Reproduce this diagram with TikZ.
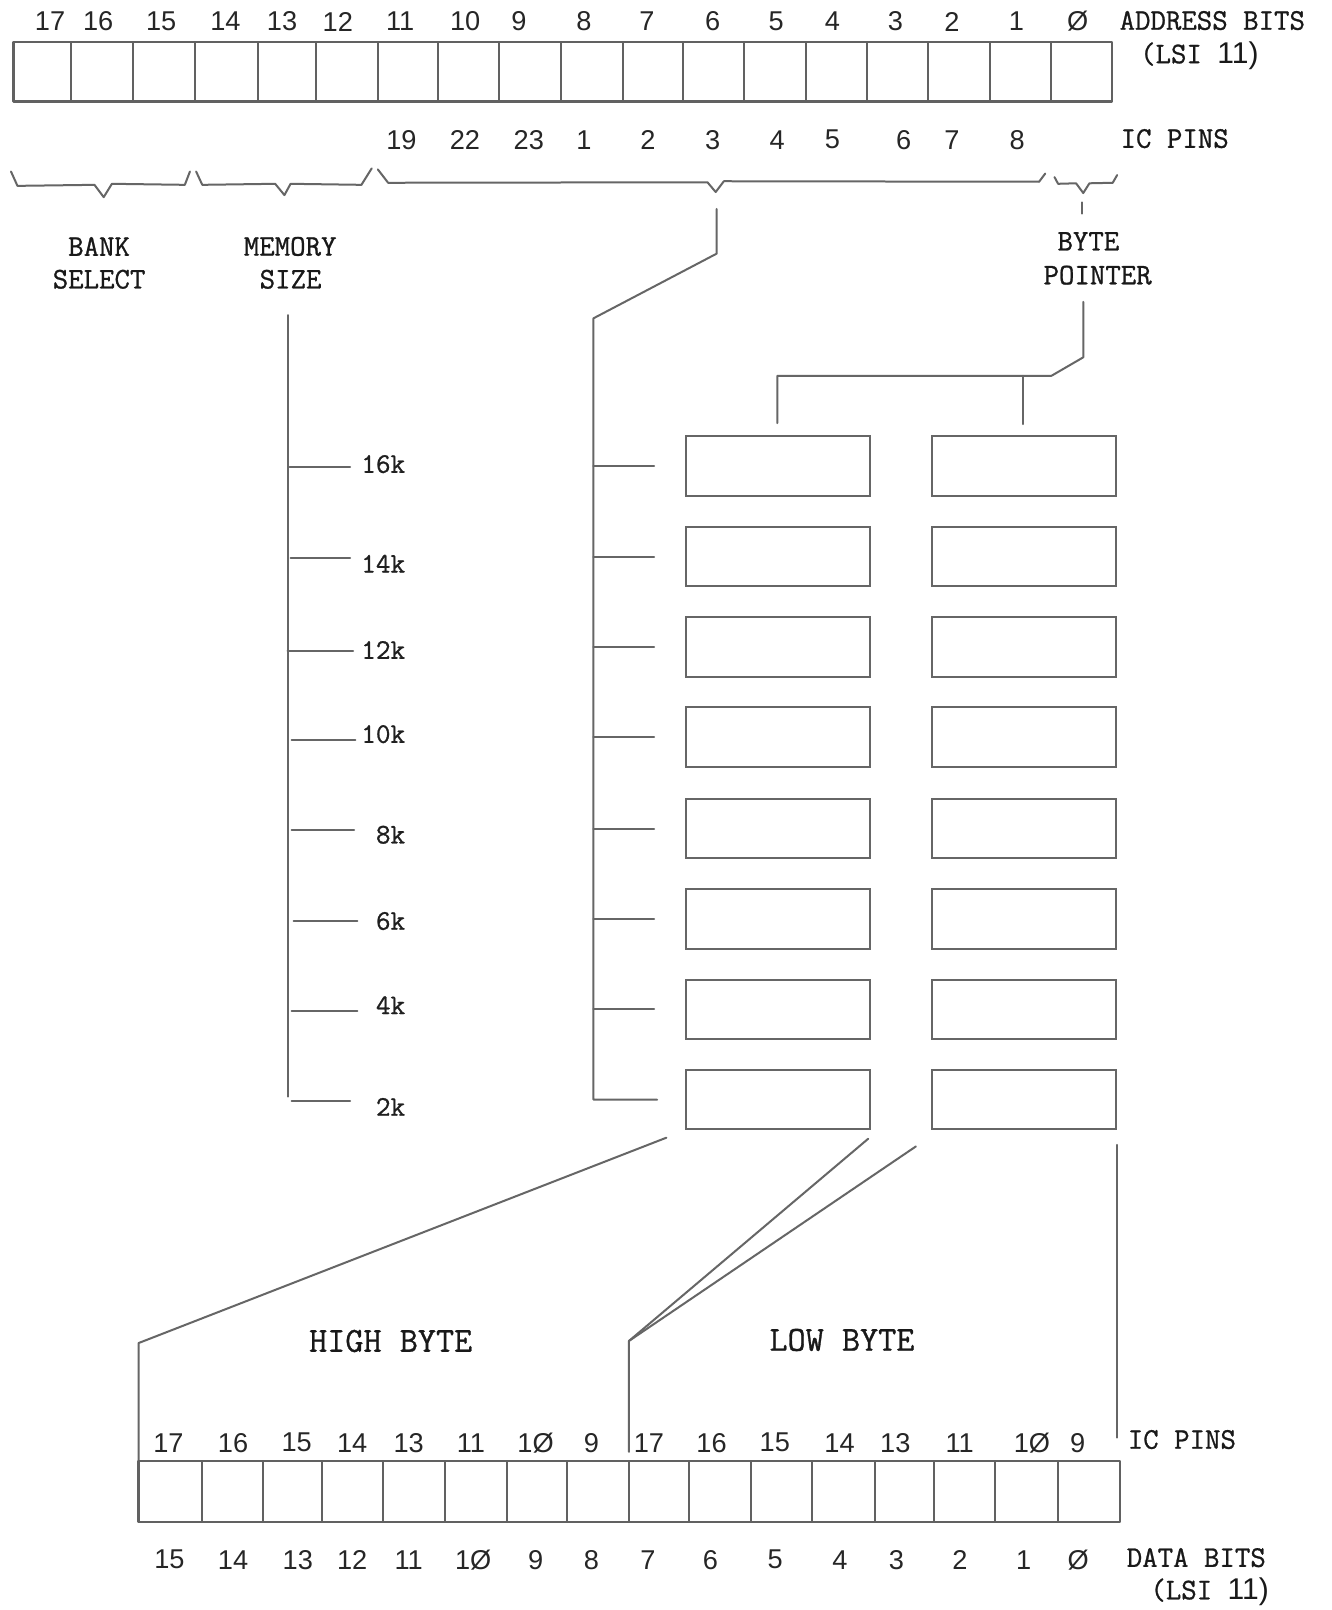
\documentclass[tikz,border=0pt]{standalone}
\usepackage{fontspec}
\newfontfamily\numfont{Liberation Sans}
\newfontfamily\lblfont{Latin Modern Mono}[FakeBold=0.9]
\tikzset{
  ln/.style={draw=black!60, line width=1pt, line join=round, line cap=round},
  regline/.style={draw=black!62, line width=1.2pt, line join=round},
  num/.style={font=\numfont\fontsize{13.6}{15}\selectfont, text=black!85, inner sep=0pt},
  lbl/.style={font=\lblfont\fontsize{15}{16}\selectfont, text=black!90, inner sep=0pt},
  big/.style={font=\lblfont\fontsize{17.6}{19}\selectfont, text=black!90, inner sep=0pt},
  klbl/.style={font=\lblfont\fontsize{14.2}{16}\selectfont, text=black!88, inner sep=0pt, anchor=east},
  chip/.style={draw=black!60, line width=1pt, minimum width=92.2pt, minimum height=29.8pt, inner sep=0pt},
}
\begin{document}
\begin{tikzpicture}[x=0.5135pt, y=-0.5135pt]
\useasboundingbox[fill=white] (0,0) rectangle (1297,1568);

% ---------------- address register ----------------
\coordinate (aregNW) at (13,41);
\coordinate (aregSE) at (1083,99);
\draw[regline] (aregNW) rectangle (aregSE);
\foreach \x in {69.5,130,190,251,307.8,367.7,427,485.6,546,607,665,724.8,784.5,844,903.9,964,1024}
  \draw[regline, line width=1pt] (\x,41) -- (\x,99);

\foreach \x/\t/\n in {48.7/17/a17,95.6/16/a16,157/15/a15,219.5/14/a14,274.7/13/a13,329/12/a12,
  389.7/11/a11,453/10/a10,505.5/9/a9,568.6/8/a8,630/7/a7,694/6/a6,756/5/a5,810.7/4/a4,
  872/3/a3,927/2/a2,989.8/1/a1,1049.6/Ø/a0}
  \node[num] (\n) at (\x,21) {\t};
\node[lbl, anchor=west] (addrlbl) at (1090,20) {ADDRESS BITS};
\node[lbl, anchor=west] (addrlsi) at (1110,54) {(LSI {\numfont 11)}};

\foreach \x/\t/\n in {391/19/p19,452.8/22/p22,515/23/p23,568.6/1/p1,631/2/p2,694/3/p3,
  757/4/p4,810.7/5/p5,880/6/p6,927/7/p7,990.6/8/p8}
  \node[num] (\n) at (\x,136) {\t};
\node[lbl, anchor=west] (icpinsT) at (1091,135) {IC PINS};

% ---------------- braces ----------------
\coordinate (bankTip) at (101,192);
\coordinate (memTip) at (277,190);
\coordinate (addrTip) at (697,187);
\coordinate (byteTip) at (1055,188);
\draw[ln] (10.7,167) -- (17,181) -- (92,180) -- (bankTip) -- (109,179) -- (180,180) -- (185,167);
\draw[ln] (191,167) -- (197,180) -- (268,179) -- (memTip) -- (283,179) -- (352,180) -- (362,164);
\draw[ln] (368,165) -- (378,178) -- (689,177.5) -- (addrTip) -- (705,176.5) -- (1012,177) -- (1018,169);
\draw[ln] (1027,172.5) -- (1030.5,179) -- (1048,178.5) -- (byteTip) -- (1061,178.5) -- (1083.7,178) -- (1088,170.5);

\node[lbl] (bank1) at (96.5,240) {BANK};
\node[lbl] (bank2) at (96.5,272) {SELECT};
\node[lbl] (mem1) at (282.6,240) {MEMORY};
\node[lbl] (mem2) at (283,272) {SIZE};
\node[lbl] (byte1) at (1060,235) {BYTE};
\node[lbl] (byte2) at (1069,268) {POINTER};

% byte pointer tick
\draw[ln] (1054,197) -- (1054,208);

% ---------------- chips ----------------
\foreach \i/\y in {1/454,2/542,3/630,4/718,5/807,6/895,7/983,8/1071}{
  \node[chip] (chipL\i) at (758,\y) {};
  \node[chip] (chipR\i) at (997.5,\y) {};
}

% address bus to chips
\coordinate (busTop) at (698,203.5);
\coordinate (busBend) at (698,247);
\coordinate (busKnee) at (578,310);
\draw[ln] (busTop) -- (busBend) -- (busKnee) -- (busKnee |- chipL8.west) -- ++(62,0);
\foreach \i in {1,...,7}
  \draw[ln] (busKnee |- chipL\i.west) -- ++(59,0);

% byte pointer to chips
\coordinate (bpTop) at (1055,294);
\coordinate (bpBend) at (1055,348);
\coordinate (bpKnee) at (1024,366);
\coordinate (bpL) at (757,366);
\coordinate (bpR) at (996,366);
\draw[ln] (bpTop) -- (bpBend) -- (bpKnee) -- (bpL) -- (bpL |- 0,412);
\draw[ln] (bpR) -- (bpR |- 0,413);

% ---------------- memory size scale ----------------
\coordinate (msTop) at (280,307);
\coordinate (msBot) at (280,1068);
\draw[ln] (msTop) -- (msBot);
\foreach \y/\a/\b in {455/282/341,543/283/341,634/280/344,721/284/346,808/284/345,897/286/348,985/284/348,1072/284/341}
  \draw[ln] (\a,\y) -- (\b,\y);
\foreach \y/\t/\n in {452/16k/k16,549/14k/k14,633/12k/k12,715/10k/k10,813/8k/k8,897/6k/k6,979/4k/k4,1078/2k/k2}
  \node[klbl] (\n) at (395,\y) {\t};

% ---------------- lines to data register ----------------
\coordinate (hiA) at (649,1108);
\coordinate (hiB) at (135,1308);
\coordinate (loA) at (845.6,1109);
\coordinate (loA2) at (892,1116.5);
\coordinate (loB) at (612.5,1306);
\coordinate (loC) at (612.5,1414);
\coordinate (rtA) at (1088,1115);
\coordinate (rtB) at (1088,1400);
\draw[ln] (hiA) -- (hiB) -- (135,1423);
\draw[ln] (loA) -- (loB) -- (loC);
\draw[ln] (loA2) -- (loB);
\draw[ln] (rtA) -- (rtB);

\node[big] (hibyte) at (380.5,1306) {HIGH BYTE};
\node[big] (lobyte) at (820,1305) {LOW BYTE};

% ---------------- data register ----------------
\coordinate (dregNW) at (135,1423);
\coordinate (dregSE) at (1091,1482);
\draw[regline] (dregNW) rectangle (dregSE);
\foreach \x in {197,256,314,373,433,494,552,613,671,731,791,852,910,969,1030}
  \draw[regline, line width=1pt] (\x,1423) -- (\x,1482);

\foreach \x/\t/\n in {164/17/q1,227/16/q2,289/15/q3,343/14/q4,398/13/q5,458.6/11/q6,521.6/1Ø/q7,576/9/q8,
  632/17/q9,693/16/q10,754.6/15/q11,817.6/14/q12,872/13/q13,934.6/11/q14,1005/1Ø/q15,1049.6/9/q16}
  \node[num] (\n) at (\x,1405) {\t};
\node[lbl, anchor=west] (icpinsB) at (1098,1402) {IC PINS};

\foreach \x/\t/\n in {165/15/d15,227/14/d14,290/13/d13,343/12/d12,398/11/d11,460.8/1Ø/d10,521.6/9/d9,576/8/d8,
  631/7/d7,692/6/d6,755/5/d5,818/4/d4,873/3/d3,935/2/d2,997/1/d1,1050/Ø/d0}
  \node[num] (\n) at (\x,1519) {\t};
\node[lbl, anchor=west] (datalbl) at (1097,1517) {DATA BITS};
\node[lbl, anchor=west] (datalsi) at (1120,1550) {(LSI {\numfont 11)}};
\end{tikzpicture}
\end{document}
